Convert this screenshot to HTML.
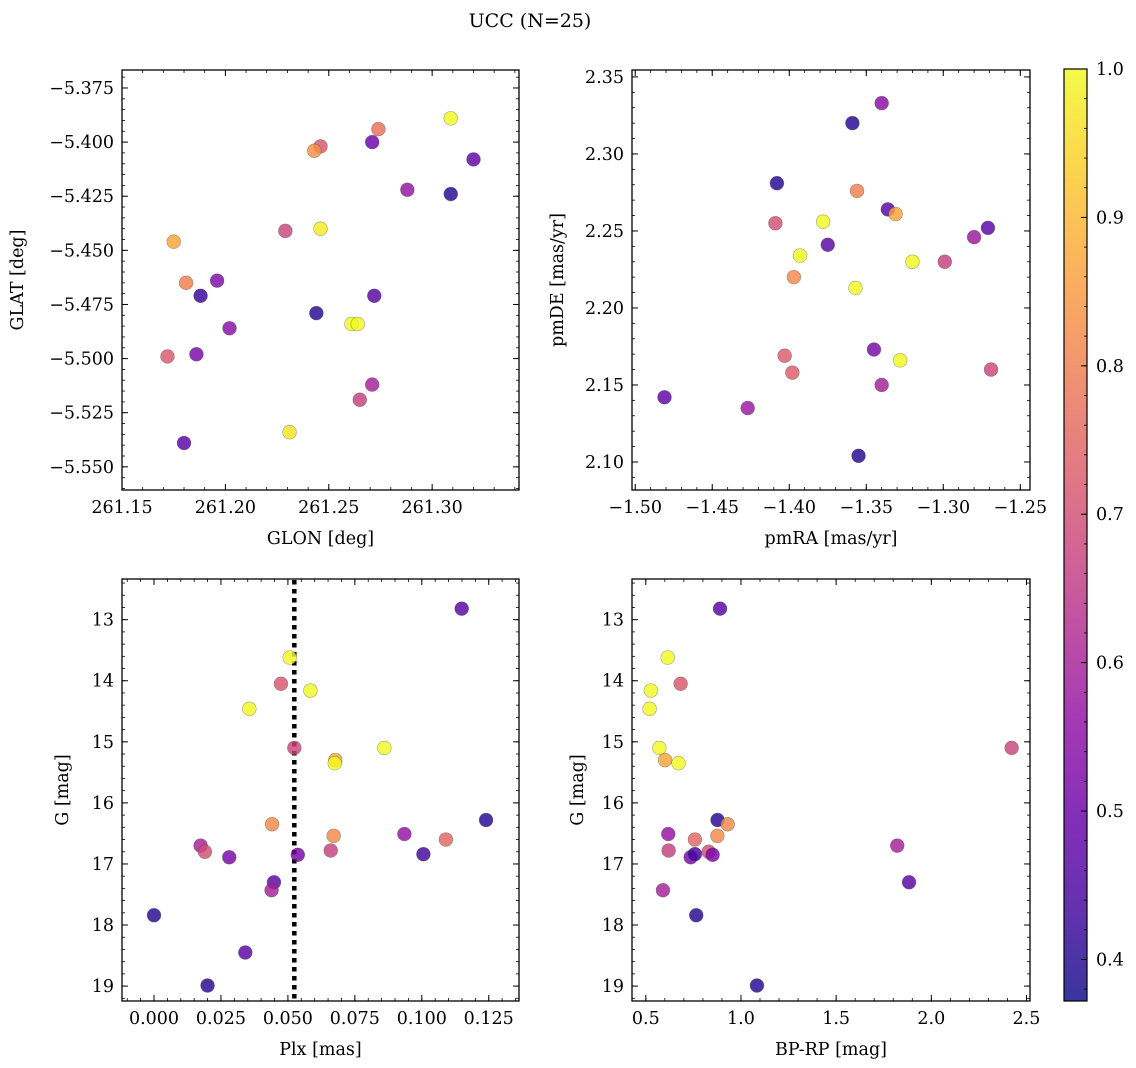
<!DOCTYPE html>
<html><head><meta charset="utf-8"><title>UCC (N=25)</title>
<style>
html,body{margin:0;padding:0;background:#fff;}
svg{display:block;font-family:"DejaVu Serif","Liberation Serif",serif;}
</style></head>
<body>
<svg id="fig" width="1136" height="1068" viewBox="0 0 1136 1068" xmlns="http://www.w3.org/2000/svg">
<text x="530" y="27" font-size="19" text-anchor="middle">UCC (N=25)</text>
</svg>
<script>
// ---- Panel A: GLON vs GLAT ----
const glon = [261.309,261.274,261.271,261.246,261.243,261.320,261.288,261.309,261.229,261.246,261.175,261.181,261.196,261.188,261.272,261.202,261.244,261.261,261.264,261.172,261.186,261.271,261.265,261.231,261.180];
const glat = [-5.389,-5.394,-5.400,-5.402,-5.404,-5.408,-5.422,-5.424,-5.441,-5.440,-5.446,-5.465,-5.464,-5.471,-5.471,-5.486,-5.479,-5.484,-5.484,-5.499,-5.498,-5.512,-5.519,-5.534,-5.539];
const probA = [1.0,0.77,0.5,0.72,0.83,0.48,0.57,0.4,0.68,0.98,0.87,0.8,0.53,0.42,0.47,0.55,0.4,1.0,1.0,0.72,0.52,0.6,0.67,0.97,0.47];
// ---- Panel B: pmRA vs pmDE ----
const pmra = [-1.340,-1.359,-1.408,-1.356,-1.336,-1.331,-1.409,-1.378,-1.271,-1.280,-1.375,-1.393,-1.320,-1.299,-1.397,-1.357,-1.345,-1.328,-1.403,-1.398,-1.269,-1.340,-1.481,-1.427,-1.355];
const pmde = [2.333,2.320,2.281,2.276,2.264,2.261,2.255,2.256,2.252,2.246,2.241,2.234,2.230,2.230,2.220,2.213,2.173,2.166,2.169,2.158,2.160,2.150,2.142,2.135,2.104];
const probB = [0.55,0.4,0.4,0.8,0.47,0.87,0.7,1.0,0.47,0.58,0.47,1.0,1.0,0.67,0.82,1.0,0.52,1.0,0.73,0.73,0.68,0.6,0.48,0.58,0.4];
// ---- Panels C/D: Plx, BP-RP vs G ----
const plx  = [0.1149,0.0507,0.0474,0.0584,0.0356,0.0524,0.0860,0.0677,0.0675,0.1240,0.0441,0.0671,0.0935,0.1090,0.0174,0.0190,0.0660,0.0537,0.0281,0.1006,0.0448,0.0439,0.0000,0.0341,0.0200];
const gmag = [12.82,13.62,14.05,14.16,14.46,15.10,15.10,15.30,15.35,16.28,16.35,16.54,16.51,16.60,16.70,16.80,16.78,16.85,16.89,16.84,17.30,17.43,17.84,18.45,18.99];
const bprp = [0.890,0.615,0.683,0.527,0.520,2.422,0.571,0.601,0.672,0.877,0.930,0.876,0.618,0.758,1.821,0.830,0.620,0.851,0.736,0.758,1.883,0.590,0.765,null,1.084];
const probC = [0.47,1.0,0.72,1.0,1.0,0.68,1.0,0.87,1.0,0.4,0.82,0.82,0.57,0.75,0.6,0.7,0.67,0.52,0.52,0.44,0.47,0.6,0.4,0.47,0.4];
const plxLine = [0.0524];
// ticks
const ticksA_x = [261.15,261.20,261.25,261.30];
const ticksA_y = [-5.375,-5.400,-5.425,-5.450,-5.475,-5.500,-5.525,-5.550];
const ticksB_x = [-1.50,-1.45,-1.40,-1.35,-1.30,-1.25];
const ticksB_y = [2.10,2.15,2.20,2.25,2.30,2.35];
const ticksC_x = [0.000,0.025,0.050,0.075,0.100,0.125];
const ticksG = [13,14,15,16,17,18,19];
const ticksD_x = [0.5,1.0,1.5,2.0,2.5];
const ticksCB = [0.4,0.5,0.6,0.7,0.8,0.9,1.0];

const SVGNS="http://www.w3.org/2000/svg";
const svg=document.getElementById('fig');
function mk(tag,attrs,parent){const e=document.createElementNS(SVGNS,tag);for(const k in attrs)e.setAttribute(k,attrs[k]);(parent||svg).appendChild(e);return e;}

const VMIN=0.372,VMAX=1.0;
const FS=17.5;
const plasma=[[13,8,135],[65,4,157],[106,0,168],[143,13,164],[177,42,144],[204,71,120],[225,100,98],[242,132,75],[252,166,54],[252,206,37],[240,249,33]];
function cmap(v){let t=(v-VMIN)/(VMAX-VMIN);t=Math.max(0,Math.min(1,t));const f=t*10;const i=Math.min(9,Math.floor(f));const r=f-i;const a=plasma[i],b=plasma[i+1];return 'rgb('+[0,1,2].map(k=>Math.round(a[k]+(b[k]-a[k])*r)).join(',')+')';}

function fmt(v,d){const s=Math.abs(v).toFixed(d);return (v<0?'\u2212':'')+s;}

function panel(o){
  const g=mk('g',{});
  
  
  const sx=v=>o.x0+(v-o.xmin)/(o.xmax-o.xmin)*(o.x1-o.x0);
  const sy=o.yinv?(v=>o.y0+(v-o.ymin)/(o.ymax-o.ymin)*(o.y1-o.y0)):(v=>o.y1-(v-o.ymin)/(o.ymax-o.ymin)*(o.y1-o.y0));
  const mg=mk('g',{stroke:'#000','stroke-width':0.8},g);
  
  
  const xs=Math.ceil(Math.min(o.xmin,o.xmax)/o.xminor-1e-6);
  for(let k=xs;k*o.xminor<=Math.max(o.xmin,o.xmax)+1e-9;k++){const px=sx(k*o.xminor);if(px<o.x0-0.5||px>o.x1+0.5)continue;
    mk('line',{x1:px,x2:px,y1:o.y1,y2:o.y1-3},mg);mk('line',{x1:px,x2:px,y1:o.y0,y2:o.y0+3},mg);}
  const ylo=Math.min(o.ymin,o.ymax),yhi=Math.max(o.ymin,o.ymax);
  for(let k=Math.ceil(ylo/o.yminor-1e-6);k*o.yminor<=yhi+1e-9;k++){const py=sy(k*o.yminor);if(py<o.y0-0.5||py>o.y1+0.5)continue;
    mk('line',{x1:o.x0,x2:o.x0+3,y1:py,y2:py},mg);mk('line',{x1:o.x1,x2:o.x1-3,y1:py,y2:py},mg);}
  o.xt.forEach(v=>{const px=sx(v);
    mk('line',{x1:px,x2:px,y1:o.y1,y2:o.y1-6,stroke:'#000','stroke-width':1},g);
    mk('line',{x1:px,x2:px,y1:o.y0,y2:o.y0+6,stroke:'#000','stroke-width':1},g);
    const t=mk('text',{x:px,y:o.y1+23,'font-size':FS,'text-anchor':'middle'},g);
    
    
    t.textContent=fmt(v,o.xd);});
  o.yt.forEach(v=>{const py=sy(v);
    mk('line',{x1:o.x0,x2:o.x0+6,y1:py,y2:py,stroke:'#000','stroke-width':1},g);
    mk('line',{x1:o.x1,x2:o.x1-6,y1:py,y2:py,stroke:'#000','stroke-width':1},g);
    const t=mk('text',{x:o.x0-8,y:py+6,'font-size':FS,'text-anchor':'end'},g);
    
    
    t.textContent=fmt(v,o.yd);});
  const xl=mk('text',{x:(o.x0+o.x1)/2,y:o.y1+54,'font-size':FS,'text-anchor':'middle'},g);
  
  
  xl.textContent=o.xlabel;
  const yc=(o.y0+o.y1)/2;
  const yl=mk('text',{x:o.ylx,y:yc,'font-size':FS,'text-anchor':'middle',transform:'rotate(-90 '+o.ylx+' '+yc+')'},g);
  
  
  yl.textContent=o.ylabel;
  if(o.vline){o.vline.forEach(v=>{const l=mk('line',{x1:sx(v),x2:sx(v),y1:o.y0+1,y2:o.y1,stroke:'#000','stroke-width':4.5,'stroke-dasharray':'4.5 4.5'},g);
    
    });}
  const pg=mk('g',{},g);
  
  
  for(let i=0;i<o.xs.length;i++){if(o.xs[i]==null)continue;
    const c=mk('circle',{cx:sx(o.xs[i]),cy:sy(o.ys[i]),r:6.9,fill:cmap(o.cs[i]),'fill-opacity':0.82,stroke:'rgba(60,60,60,0.45)','stroke-width':0.6},pg);
    
    }
  const f=mk('rect',{x:o.x0,y:o.y0,width:o.x1-o.x0,height:o.y1-o.y0,fill:'none',stroke:'#000','stroke-width':1.3},g);
  
  
}

panel({name:'glon-glat-panel',x0:122,x1:519,y0:70,y1:490,xmin:261.15,xmax:261.342,ymin:-5.5607,ymax:-5.3667,
  xt:ticksA_x,yt:ticksA_y,xd:2,yd:3,xminor:0.01,yminor:0.005,xlabel:'GLON [deg]',ylabel:'GLAT [deg]',ylx:23,xs:glon,ys:glat,cs:probA});
panel({name:'pm-panel',x0:632,x1:1030,y0:70,y1:490,xmin:-1.5021,xmax:-1.2437,ymin:2.0818,ymax:2.3545,
  xt:ticksB_x,yt:ticksB_y,xd:2,yd:2,xminor:0.01,yminor:0.01,xlabel:'pmRA [mas/yr]',ylabel:'pmDE [mas/yr]',ylx:563,xs:pmra,ys:pmde,cs:probB});
panel({name:'plx-g-panel',x0:122,x1:519,y0:579,y1:1001,xmin:-0.01195,xmax:0.1363,ymin:12.334,ymax:19.244,yinv:true,
  xt:ticksC_x,yt:ticksG,xd:3,yd:0,xminor:0.005,yminor:0.2,xlabel:'Plx [mas]',ylabel:'G [mag]',ylx:68,xs:plx,ys:gmag,cs:probC,vline:plxLine});
panel({name:'cmd-panel',x0:632,x1:1030,y0:579,y1:1001,xmin:0.4275,xmax:2.5185,ymin:12.334,ymax:19.244,yinv:true,
  xt:ticksD_x,yt:ticksG,xd:1,yd:0,xminor:0.1,yminor:0.2,xlabel:'BP-RP [mag]',ylabel:'G [mag]',ylx:583,xs:bprp,ys:gmag,cs:probC});

(function(){
  const x0=1064,x1=1087,y0=69,y1=1001;
  const g=mk('g',{});
  
  
  const defs=mk('defs',{},g);
  const lg=mk('linearGradient',{id:'cbg',x1:0,y1:1,x2:0,y2:0},defs);
  for(let i=0;i<=20;i++){const v=VMIN+(VMAX-VMIN)*i/20;mk('stop',{offset:(i*5)+'%','stop-color':cmap(v),'stop-opacity':0.82},lg);}
  mk('rect',{x:x0,y:y0,width:x1-x0,height:y1-y0,fill:'url(#cbg)',stroke:'#000','stroke-width':1.2},g);
  const sy=v=>y1-(v-VMIN)/(VMAX-VMIN)*(y1-y0);
  for(let v=0.38;v<=1.0001;v+=0.02){mk('line',{x1:x1,x2:x1-3,y1:sy(v),y2:sy(v),stroke:'#000','stroke-width':0.8},g);}
  ticksCB.forEach(v=>{const py=sy(v);
    mk('line',{x1:x1,x2:x1-6,y1:py,y2:py,stroke:'#000','stroke-width':1},g);
    const t=mk('text',{x:x1+9,y:py+6,'font-size':FS},g);
    
    
    t.textContent=v.toFixed(1);});
})();
</script>
</body></html>
